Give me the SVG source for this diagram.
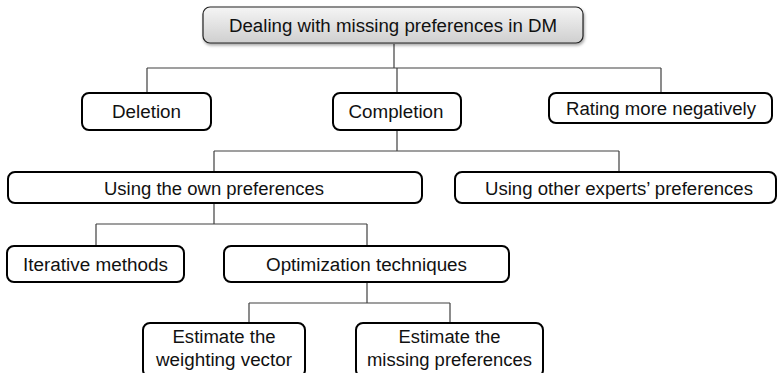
<svg xmlns="http://www.w3.org/2000/svg" width="780" height="373" viewBox="0 0 780 373">
<style>
.box{fill:#fff;stroke:#000;stroke-width:2}
.t{font-family:"Liberation Sans",Arial,sans-serif;font-size:18px;fill:#111;text-anchor:middle}
.c{fill:none;stroke:#404040;stroke-width:1.2}
</style>
<defs>
<linearGradient id="g" x1="0" y1="0" x2="0" y2="1">
<stop offset="0" stop-color="#f5f5f5"/>
<stop offset="1" stop-color="#cfcfcf"/>
</linearGradient>
<filter id="sh" x="-5%" y="-20%" width="110%" height="160%">
<feDropShadow dx="1" dy="2" stdDeviation="1.5" flood-color="#000" flood-opacity="0.35"/>
</filter>
</defs>
<rect width="780" height="373" fill="#fff"/>
<g id="connectors">
<path class="c" d="M394 44V68M147 68H661M147 68V93M397 68V93M661 68V93"/>
<path class="c" d="M397 130V151M214 151H619M214 151V172M619 151V172"/>
<path class="c" d="M214 203V224M96 224H367M96 224V246M367 224V246"/>
<path class="c" d="M367 282V303M249 303H450M249 303V323M450 303V323"/>
</g>
<g id="root">
<rect x="203" y="7" width="380" height="36" rx="7" fill="url(#g)" stroke="#222" stroke-width="1.2" filter="url(#sh)"/>
<text class="t" x="393" y="32" textLength="328" lengthAdjust="spacingAndGlyphs">Dealing with missing preferences in DM</text>
</g>
<g id="deletion">
<rect class="box" x="82" y="93" width="129" height="37" rx="7"/>
<text class="t" x="146.5" y="118" textLength="69" lengthAdjust="spacingAndGlyphs">Deletion</text>
</g>
<g id="completion">
<rect class="box" x="333" y="93" width="128" height="37" rx="7"/>
<text class="t" x="396" y="118" textLength="95" lengthAdjust="spacingAndGlyphs">Completion</text>
</g>
<g id="rating">
<rect class="box" x="549" y="93" width="223" height="30" rx="7"/>
<text class="t" x="661" y="115" textLength="190" lengthAdjust="spacingAndGlyphs">Rating more negatively</text>
</g>
<g id="own">
<rect class="box" x="8" y="172" width="414" height="31" rx="7"/>
<text class="t" x="214" y="195" textLength="220" lengthAdjust="spacingAndGlyphs">Using the own preferences</text>
</g>
<g id="other">
<rect class="box" x="455" y="172" width="321" height="31" rx="7"/>
<text class="t" x="619" y="195" textLength="268" lengthAdjust="spacingAndGlyphs">Using other experts’ preferences</text>
</g>
<g id="iterative">
<rect class="box" x="7" y="246" width="177" height="36" rx="7"/>
<text class="t" x="95.5" y="271" textLength="145" lengthAdjust="spacingAndGlyphs">Iterative methods</text>
</g>
<g id="optimization">
<rect class="box" x="224" y="246" width="285" height="36" rx="7"/>
<text class="t" x="366.5" y="271" textLength="201" lengthAdjust="spacingAndGlyphs">Optimization techniques</text>
</g>
<g id="weighting">
<rect class="box" x="143" y="323" width="162" height="54" rx="7"/>
<text class="t" x="224" y="343" textLength="103" lengthAdjust="spacingAndGlyphs">Estimate the</text>
<text class="t" x="224" y="366" textLength="136" lengthAdjust="spacingAndGlyphs">weighting vector</text>
</g>
<g id="missing">
<rect class="box" x="356" y="323" width="187" height="54" rx="7"/>
<text class="t" x="449.5" y="343" textLength="102" lengthAdjust="spacingAndGlyphs">Estimate the</text>
<text class="t" x="449.5" y="366" textLength="165" lengthAdjust="spacingAndGlyphs">missing preferences</text>
</g>
</svg>
